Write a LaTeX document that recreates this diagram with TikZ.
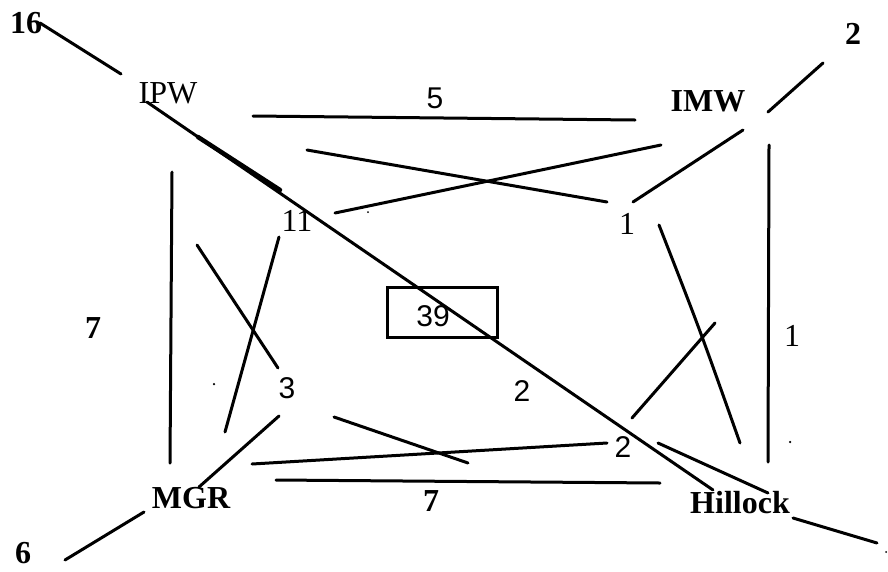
\documentclass[tikz,border=0pt]{standalone}
\usepackage{fontspec}
\setmainfont{Liberation Serif}
\newfontfamily\sansf{Liberation Sans}
\begin{document}
\begin{tikzpicture}[x=1pt,y=-1pt,
  ln/.style={line width=3pt, line cap=round},
  lab/.style={inner sep=0pt, font=\fontsize{32}{36}\selectfont},
  blab/.style={inner sep=0pt, font=\fontsize{32}{36}\selectfont\bfseries},
  slab/.style={inner sep=0pt, font=\fontsize{30}{36}\selectfont\sansf},
  speck/.style={fill=black, inner sep=0pt, minimum size=2.5pt, circle}]
\useasboundingbox (0,0) rectangle (888,571);

% labels
\node[blab] (n16) at (26,23) {16};
\node[lab]  (ipw) at (168,93) {IPW};
\node[slab] (n5) at (435,98) {5};
\node[blab] (imw) at (708,101) {IMW};
\node[blab] (n2tr) at (853,34) {2};
\node[lab]  (n11) at (297,221) {11};
\node[lab]  (n1a) at (627,224) {1};
\node[blab] (n7l) at (93,328) {7};
\node[lab]  (n1r) at (792,336) {1};
\node[slab] (n3) at (287,388) {3};
\node[slab] (n2c) at (522,391) {2};
\node[slab] (n2h) at (623,447) {2};
\node[blab] (mgr) at (191,498) {MGR};
\node[blab] (n7b) at (431,501) {7};
\node[blab] (hil) at (740,503) {Hillock};
\node[blab] (n6) at (23,553) {6};
\node[draw, line width=3pt, minimum width=110pt, minimum height=50pt, inner sep=0pt] (box) at (442,312) {};
\node[slab] (n39) at (433,316) {39};

% line end points
\coordinate (a1) at (40,23);   \coordinate (a2) at (121,74);
\coordinate (d1) at (147,102); \coordinate (d2) at (713,490);
\coordinate (t1) at (198,137); \coordinate (t2) at (280,190);
\coordinate (e1) at (793,518); \coordinate (e2) at (877,543);
\coordinate (f1) at (658,443); \coordinate (f2) at (768,493);
\coordinate (h1) at (253,116); \coordinate (h2) at (635,120);
\coordinate (c1) at (307,150); \coordinate (c2) at (607,202);
\coordinate (c3) at (335,213); \coordinate (c4) at (661,145);
\coordinate (i1) at (743,130); \coordinate (i2) at (633,202);
\coordinate (j1) at (768,112); \coordinate (j2) at (823,63);
\coordinate (v1) at (769,145); \coordinate (v2) at (768,462);
\coordinate (k1) at (659,225); \coordinate (k2) at (740,443);
\coordinate (m1) at (632,418); \coordinate (m2) at (715,323);
\coordinate (l1) at (172,172); \coordinate (l2) at (170,463);
\coordinate (p1) at (197,245); \coordinate (p2) at (278,368);
\coordinate (q1) at (279,237); \coordinate (q2) at (225,432);
\coordinate (r1) at (279,416); \coordinate (r2) at (199,487);
\coordinate (s1) at (144,512); \coordinate (s2) at (65,560);
\coordinate (g1) at (252,464); \coordinate (g2) at (607,443);
\coordinate (u1) at (334,417); \coordinate (u2) at (468,463);
\coordinate (b1) at (276,480); \coordinate (b2) at (660,483);

% lines
\draw[ln] (a1) -- (a2);
\draw[ln] (d1) -- (d2);
\draw[line width=4.5pt, line cap=round] (t1) -- (t2);
\draw[ln] (e1) -- (e2);
\draw[ln] (f1) -- (f2);
\draw[ln] (h1) -- (h2);
\draw[ln] (c1) -- (c2);
\draw[ln] (c3) -- (c4);
\draw[ln] (i1) -- (i2);
\draw[ln] (j1) -- (j2);
\draw[ln] (v1) -- (v2);
\draw[ln] (k1) .. controls (700,330) .. (k2);
\draw[ln] (m1) -- (m2);
\draw[ln] (l1) -- (l2);
\draw[ln] (p1) -- (p2);
\draw[ln] (q1) -- (q2);
\draw[ln] (r1) -- (r2);
\draw[ln] (s1) -- (s2);
\draw[ln] (g1) -- (g2);
\draw[ln] (u1) -- (u2);
\draw[ln] (b1) -- (b2);

% specks
\node[speck] (sp1) at (214,384) {};
\node[speck] (sp2) at (790,442) {};
\node[speck, minimum size=2pt] (sp3) at (368,212) {};
\node[speck, minimum size=2pt] (sp4) at (886,552) {};
\end{tikzpicture}
\end{document}
